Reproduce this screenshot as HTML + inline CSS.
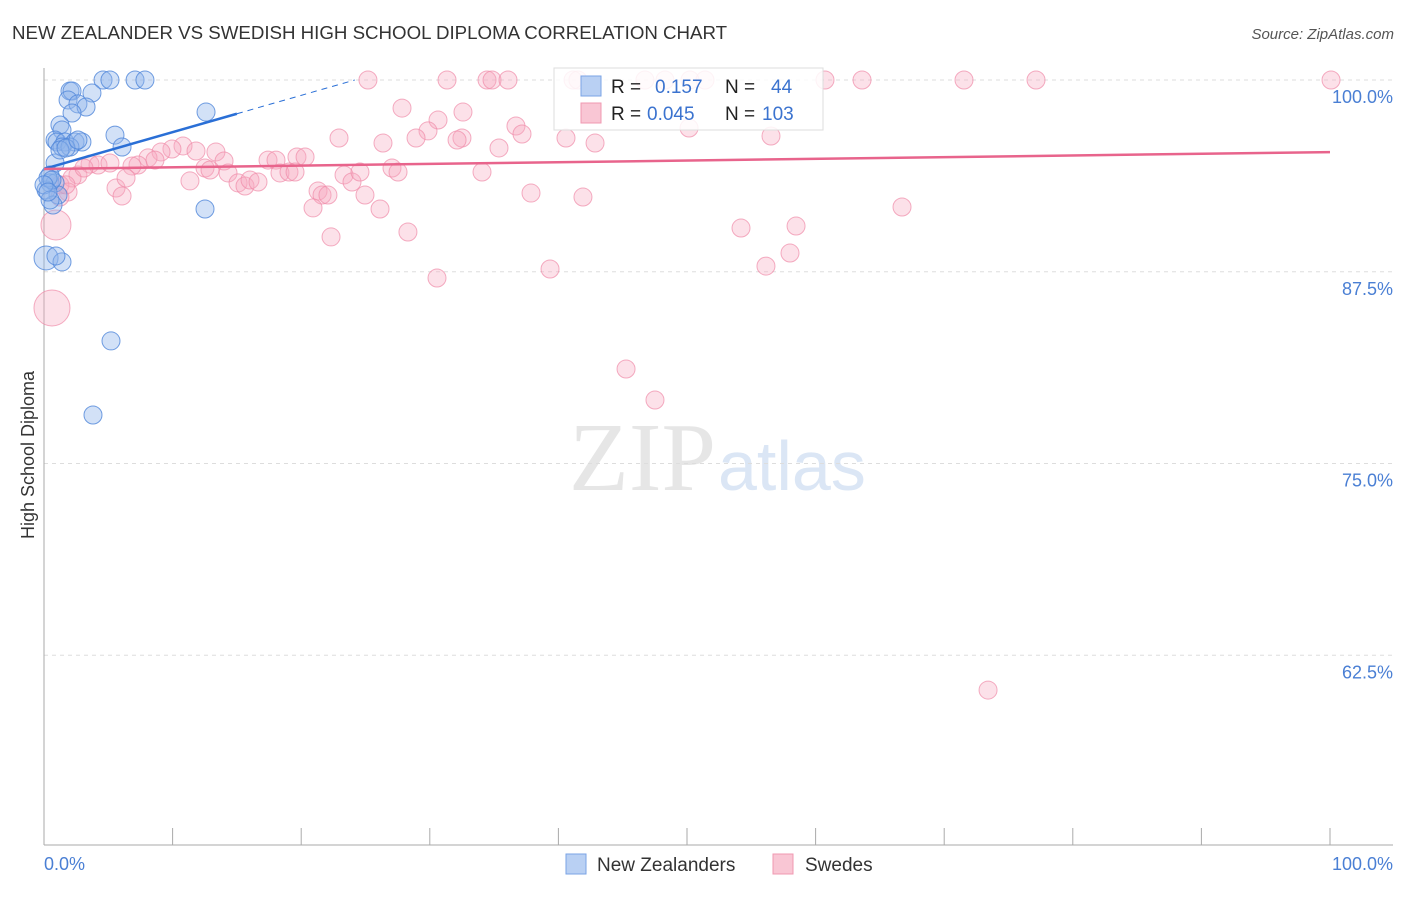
<!DOCTYPE html>
<html><head><meta charset="utf-8"><style>
body{margin:0;background:#fff;font-family:"Liberation Sans",sans-serif}
</style></head><body>
<svg width="1406" height="892" xmlns="http://www.w3.org/2000/svg">
<text x="12" y="39" font-size="18.7" fill="#333">NEW ZEALANDER VS SWEDISH HIGH SCHOOL DIPLOMA CORRELATION CHART</text>
<text x="1394" y="39" font-size="15" fill="#555" font-style="italic" text-anchor="end">Source: ZipAtlas.com</text>
<text x="716" y="490" font-size="98" fill="#e6e6e6" font-family="Liberation Serif" text-anchor="end">ZIP</text>
<text x="718" y="490" font-size="70" fill="#dbe6f5">atlas</text>
<g id="grid"></g>
<g id="axes"></g>
<g id="pts"></g>
<g id="trends"></g>
<text transform="translate(34,455) rotate(-90)" font-size="18" fill="#333" text-anchor="middle">High School Diploma</text>
<text x="44" y="870" font-size="18" fill="#4a7fd4">0.0%</text>
<text x="1393" y="870" font-size="18" fill="#4a7fd4" text-anchor="end">100.0%</text>
<g>
<rect x="554" y="68" width="269" height="62" fill="#fff" fill-opacity="0.85" stroke="#ddd"/>
<rect x="581" y="76" width="20" height="20" fill="#b9d0f3" stroke="#7aa3e6"/>
<rect x="581" y="103" width="20" height="20" fill="#f9c6d4" stroke="#f098b1"/>
<text x="611" y="93" font-size="19" fill="#222">R = </text><text x="655" y="93" font-size="19" fill="#3b73cf">0.157</text>
<text x="725" y="93" font-size="19" fill="#222">N = </text><text x="771" y="93" font-size="19" fill="#3b73cf">44</text>
<text x="611" y="120" font-size="19" fill="#222">R = </text><text x="647" y="120" font-size="19" fill="#3b73cf">0.045</text>
<text x="725" y="120" font-size="19" fill="#222">N = </text><text x="762" y="120" font-size="19" fill="#3b73cf">103</text>
</g>
<g>
<rect x="566" y="854" width="20" height="20" fill="#b9d0f3" stroke="#7aa3e6"/>
<text x="597" y="871" font-size="19" fill="#333">New Zealanders</text>
<rect x="773" y="854" width="20" height="20" fill="#f9c6d4" stroke="#f098b1"/>
<text x="805" y="871" font-size="19" fill="#333">Swedes</text>
</g>
</svg>
<script>
const yTicks=[100,87.5,75,62.5];
const yTickLabels=["100.0%","87.5%","75.0%","62.5%"];
const xTicks=[0,10,20,30,40,50,60,70,80,90,100];
const bluePx=[[103,80],[110,80],[135,80],[145,80],[70,91],[72,91],[68,100],[78,104],[92,93],[86,107],[72,113],[206,112],[60,125],[62,130],[115,135],[55,140],[57,142],[65,142],[75,142],[82,142],[62,147],[70,147],[122,147],[55,163],[50,175],[50,183],[55,183],[46,190],[58,195],[53,205],[205,209],[46,258],[62,262],[56,256],[111,341],[93,415],[48,178],[52,180],[44,185],[60,150],[66,148],[78,140],[50,200],[48,192]];
const pinkPx=[[368,80],[447,80],[487,80],[492,80],[508,80],[573,80],[578,80],[645,80],[665,80],[690,80],[705,80],[825,80],[862,80],[964,80],[1036,80],[1331,80],[402,108],[463,112],[438,120],[428,131],[416,138],[462,138],[457,140],[516,126],[522,134],[499,148],[566,138],[595,143],[689,128],[771,136],[339,138],[383,143],[268,160],[276,160],[297,157],[305,157],[183,146],[196,151],[216,152],[224,161],[172,149],[161,152],[148,158],[155,160],[138,165],[132,166],[90,164],[98,165],[110,163],[78,175],[72,178],[84,168],[60,185],[68,192],[116,188],[122,196],[126,178],[190,181],[205,168],[210,170],[228,173],[238,183],[245,186],[250,180],[258,182],[280,173],[289,172],[295,172],[318,191],[322,195],[328,195],[313,208],[344,175],[352,182],[360,172],[365,195],[380,209],[392,168],[398,172],[408,232],[331,237],[482,172],[531,193],[583,197],[437,278],[550,269],[626,369],[655,400],[741,228],[796,226],[790,253],[766,266],[902,207],[988,690],[56,225],[52,308],[60,197],[66,185]];
const blueX=bluePx.map(p=>+((p[0]-44)/12.86).toFixed(2));
const blueY=bluePx.map(p=>+(100-(p[1]-80)/15.34).toFixed(2));
const pinkX=pinkPx.map(p=>+((p[0]-44)/12.86).toFixed(2));
const pinkY=pinkPx.map(p=>+(100-(p[1]-80)/15.34).toFixed(2));
const blueTrend=[94.2,97.8];
const pinkTrend=[94.2,95.3];
const xs=v=>44+v*12.86, ys=v=>80+(100-v)*15.34;
const NS="http://www.w3.org/2000/svg";
function mk(tag,a,parent){const e=document.createElementNS(NS,tag);for(const k in a)e.setAttribute(k,a[k]);document.getElementById(parent).appendChild(e);return e;}
yTicks.forEach((t,i)=>{
 const l=mk('line',{x1:44,x2:1393,y1:ys(t),y2:ys(t),stroke:'#ddd','stroke-dasharray':'4,4'},'grid');
 
 
 const tx=mk('text',{x:1393,y:ys(t)+23,'font-size':18,fill:'#4a7fd4','text-anchor':'end'},'grid');
 tx.textContent=yTickLabels[i];
 
 
});
let ax=mk('line',{x1:44,x2:44,y1:68,y2:845,stroke:'#aaa'},'axes');


ax=mk('line',{x1:44,x2:1393,y1:845,y2:845,stroke:'#aaa'},'axes');


xTicks.forEach(t=>{
 const l=mk('line',{x1:xs(t),x2:xs(t),y1:828,y2:845,stroke:'#aaa'},'axes');
 
 
});
pinkX.forEach((x,i)=>{
 let r=9; if(i===pinkX.length-4)r=15; if(i===pinkX.length-3)r=18;
 const c=mk('circle',{cx:xs(x),cy:ys(pinkY[i]),r:r,fill:'#f7a8bf','fill-opacity':0.35,stroke:'#f08aa8','stroke-opacity':0.7},'pts');
 
 
});
blueX.forEach((x,i)=>{
 const r=(i===31)?12:9;
 const c=mk('circle',{cx:xs(x),cy:ys(blueY[i]),r:r,fill:'#8fb4ec','fill-opacity':0.4,stroke:'#4f86da','stroke-opacity':0.8},'pts');
 
 
});
const bs=(blueTrend[1]-blueTrend[0])/15;
let t=mk('line',{x1:xs(0),y1:ys(blueTrend[0]),x2:xs(15),y2:ys(blueTrend[1]),stroke:'#2a6fd6','stroke-width':2.5},'trends');


const xe=(100-blueTrend[0])/bs;
t=mk('line',{x1:xs(15),y1:ys(blueTrend[1]),x2:xs(xe),y2:ys(100),stroke:'#2a6fd6','stroke-width':1,'stroke-dasharray':'6,5'},'trends');


t=mk('line',{x1:xs(0),y1:ys(pinkTrend[0]),x2:xs(100),y2:ys(pinkTrend[1]),stroke:'#e8648c','stroke-width':2.5},'trends');


</script>
</body></html>
